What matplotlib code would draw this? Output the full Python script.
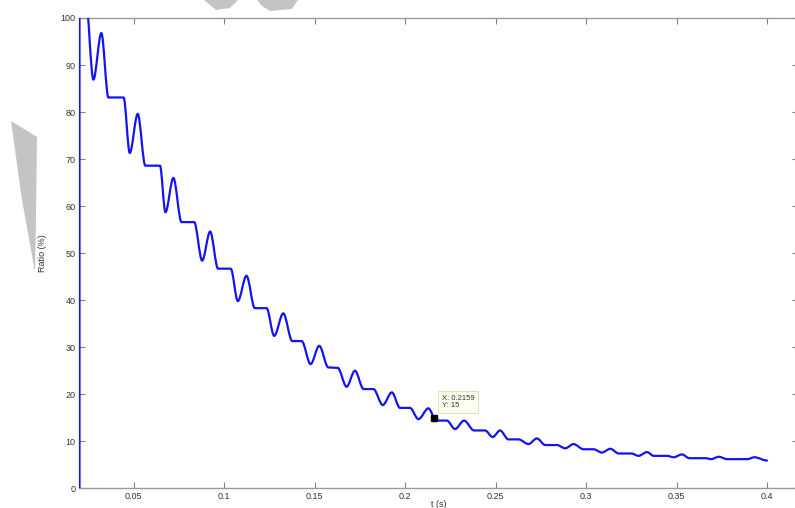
import matplotlib
matplotlib.use("Agg")
import matplotlib.pyplot as plt
from matplotlib.path import Path
from matplotlib.patches import PathPatch, Polygon

# waypoints (extrema and the ends of each flat step)
t_pts = [0.0200, 0.0200, 0.0235, 0.0277, 0.0321, 0.0360, 0.0444, 0.0478, 0.0522,
         0.0564, 0.0645, 0.0675, 0.0719, 0.0764, 0.0834, 0.0878, 0.0922, 0.0966,
         0.1036, 0.1075, 0.1123, 0.1169, 0.1234, 0.1276, 0.1326, 0.1376, 0.1428,
         0.1477, 0.1525, 0.1575, 0.1627, 0.1676, 0.1722, 0.1770, 0.1824, 0.1876,
         0.1926, 0.1971, 0.2026, 0.2073, 0.2128, 0.2171, 0.2230, 0.2275, 0.2325,
         0.2380, 0.2441, 0.2483, 0.2524, 0.2570, 0.2626, 0.2681, 0.2727, 0.2774,
         0.2838, 0.2884, 0.2930, 0.2985, 0.3040, 0.3087, 0.3133, 0.3179, 0.3250,
         0.3289, 0.3336, 0.3372, 0.3446, 0.3483, 0.3529, 0.3570, 0.3660, 0.3690,
         0.3733, 0.3778, 0.3890, 0.3929, 0.3999]
ratio_pts = [0.0, 110.0, 104.0, 86.9, 96.8, 83.1, 83.1, 71.3, 79.6,
             68.6, 68.6, 58.7, 66.0, 56.6, 56.6, 48.4, 54.6, 46.7,
             46.7, 39.8, 45.2, 38.3, 38.3, 32.4, 37.2, 31.3, 31.3,
             26.4, 30.3, 25.7, 25.6, 21.6, 25.0, 21.1, 21.1, 17.7,
             20.4, 17.1, 17.1, 14.7, 17.0, 14.4, 14.4, 12.6, 14.4,
             12.3, 12.3, 10.9, 12.3, 10.4, 10.4, 9.4, 10.6, 9.2,
             9.2, 8.5, 9.4, 8.3, 8.3, 7.6, 8.4, 7.4, 7.4,
             6.9, 7.7, 6.9, 6.9, 6.6, 7.2, 6.4, 6.4, 6.2,
             6.7, 6.2, 6.2, 6.6, 5.9]

tip_x = 0.2159
tip_y = 15

x_ticks = [0.05, 0.1, 0.15, 0.2, 0.25, 0.3, 0.35, 0.4]
x_labels = ["0.05", "0.1", "0.15", "0.2", "0.25", "0.3", "0.35", "0.4"]
y_ticks = list(range(0, 101, 10))

plt.rcParams['font.family'] = ['Liberation Sans', 'DejaVu Sans']

W, H = 795, 508
fig = plt.figure(figsize=(W / 100, H / 100), dpi=100)
ax = fig.add_axes([79.0 / W, (H - 488.3) / H, (798 - 79.0) / W, (488.3 - 18) / H])

# smooth trace: cubic segments with flat tangents at every waypoint
verts = [(t_pts[0], ratio_pts[0])]
codes = [Path.MOVETO]
for i in range(1, len(t_pts)):
    t0, y0 = t_pts[i - 1], ratio_pts[i - 1]
    t1, y1 = t_pts[i], ratio_pts[i]
    dt = t1 - t0
    verts += [(t0 + dt / 3, y0), (t1 - dt / 3, y1), (t1, y1)]
    codes += [Path.CURVE4] * 3
ax.add_patch(PathPatch(Path(verts, codes), fill=False, edgecolor='#1414f0',
                       lw=1.6, joinstyle='round', capstyle='round', zorder=3))

ax.plot([tip_x], [tip_y], 's', color='black', ms=4, zorder=5)
ax.annotate(f"X: {tip_x}\nY: {tip_y}", xy=(tip_x, tip_y), xytext=(5.5, 6),
            textcoords='offset points', ha='left', va='bottom', fontsize=5.5,
            color='#333333', linespacing=1.1,
            bbox=dict(boxstyle='square,pad=0.45', fc='#fffff0', ec='#e0e0c8', lw=0.8))

ax.set_xlim(0.01975, 0.417)
ax.set_ylim(0, 100)
ax.set_xticks(x_ticks)
ax.set_xticklabels(x_labels)
ax.set_yticks(y_ticks)
ax.tick_params(direction='in', top=True, right=True, length=4, width=0.8,
               color='#808080', labelsize=6.5, labelcolor='#333333', pad=2.5)
for s in ax.spines.values():
    s.set_color('#9a9a9a')
    s.set_linewidth(1.0)

ax.set_xlabel("t (s)", fontsize=6.5, color='#333333', labelpad=-0.5)
ax.set_ylabel("Ratio (%)", fontsize=6.5, color='#333333', labelpad=10)

# grey watermark strokes at the edges of the scan
for pts in ([(11, 121), (37, 137), (36, 215), (35, 272), (22, 200)],
            [(204, 0), (238, 0), (230, 8), (216, 10)],
            [(257, 0), (298, 0), (292, 9), (270, 11), (262, 6)]):
    fig.patches.append(Polygon([(x / W, 1 - y / H) for x, y in pts], closed=True,
                               transform=fig.transFigure, fc='#c4c4c4', ec='none'))

fig.savefig("out.png", dpi=100)
